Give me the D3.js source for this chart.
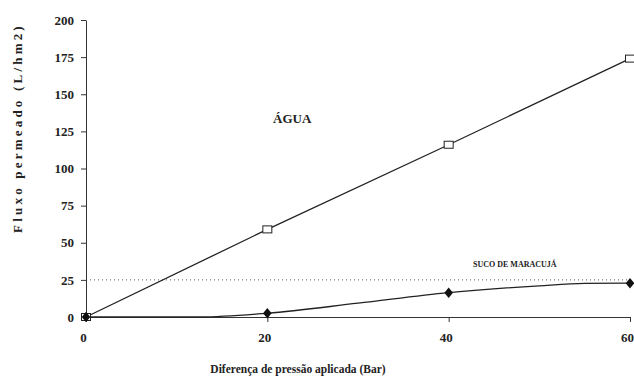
<!DOCTYPE html>
<html>
<head>
<meta charset="utf-8">
<script src="https://cdn.jsdelivr.net/npm/d3@7"></script>
<style>
  body { margin: 0; background: #fff; }
  text { font-family: "Liberation Serif", "Times New Roman", serif; font-weight: bold; fill: #222; }
</style>
</head>
<body>
<div id="chart"></div>
<script>
// pressure (bar) and flux values
var pressure = [0, 20, 40, 60];
var agua = [0, 59, 116, 174];
var suco = [0, 2.5, 16.4, 22.8];

// trend line of the juice
var sucoTrendX = [0, 2.5, 12.6, 20, 30, 40, 50, 55, 60];
var sucoTrendY = [0, 0, 0, 2.5, 9.3, 16.4, 21, 22.6, 22.8];

var xTicks = [0, 20, 40, 60];
var yTicks = [0, 25, 50, 75, 100, 125, 150, 175, 200];
var limite = 25;

var width = 634, height = 378;
var margin = { top: 20, right: 4, bottom: 61, left: 86 };

var x = d3.scaleLinear().domain([0, 60]).range([margin.left, width - margin.right]);
var y = d3.scaleLinear().domain([0, 200]).range([height - margin.bottom, margin.top]);

var svg = d3.select("#chart").append("svg")
    .attr("width", width)
    .attr("height", height);

// dotted reference line at 25
svg.append("line")
    .attr("x1", x(0)).attr("x2", x(60))
    .attr("y1", y(limite)).attr("y2", y(limite))
    .attr("stroke", "#555")
    .attr("stroke-width", 1)
    .attr("stroke-dasharray", "1,3");

// axes
var yAxis = svg.append("g")
    .attr("transform", "translate(" + x(0) + ",0)")
    .call(d3.axisLeft(y).tickValues(yTicks).tickSize(5).tickSizeOuter(0).tickPadding(7));
yAxis.select(".domain").attr("stroke", "#333");
yAxis.selectAll(".tick line").attr("stroke", "#333");
yAxis.selectAll("text").style("font-size", "13px").style("font-family", "Liberation Serif").style("font-weight", "bold").attr("fill", "#222");

var xAxis = svg.append("g")
    .attr("transform", "translate(0," + y(0) + ")")
    .call(d3.axisBottom(x).tickValues(xTicks).tickSize(5).tickSizeOuter(0).tickPadding(11));
xAxis.select(".domain").attr("stroke", "#333");
xAxis.selectAll(".tick line").attr("stroke", "#333");
xAxis.selectAll("text").attr("dx", "-3").style("font-size", "13px").style("font-family", "Liberation Serif").style("font-weight", "bold").attr("fill", "#222");

// water line
var aguaData = pressure.map(function (p, i) { return { x: p, y: agua[i] }; });
var sucoData = pressure.map(function (p, i) { return { x: p, y: suco[i] }; });
var sucoTrend = sucoTrendX.map(function (p, i) { return { x: p, y: sucoTrendY[i] }; });

var line = d3.line()
    .x(function (d) { return x(d.x); })
    .y(function (d) { return y(d.y); });

svg.append("path")
    .datum(aguaData)
    .attr("d", line)
    .attr("fill", "none")
    .attr("stroke", "#222")
    .attr("stroke-width", 1.3);

svg.append("path")
    .datum(sucoTrend)
    .attr("d", line.curve(d3.curveMonotoneX))
    .attr("fill", "none")
    .attr("stroke", "#222")
    .attr("stroke-width", 1.3);

// markers (squares first so the diamond at the origin sits on top)
svg.append("g").selectAll("rect")
    .data(aguaData)
    .enter()
    .append("rect")
    .attr("x", function (d) { return x(d.x) - 4.5; })
    .attr("y", function (d) { return y(d.y) - 3.5; })
    .attr("width", 9)
    .attr("height", 7)
    .attr("fill", "#fff")
    .attr("stroke", "#222")
    .attr("stroke-width", 1);

svg.append("g").selectAll("path")
    .data(sucoData)
    .enter()
    .append("path")
    .attr("d", d3.symbol().type(d3.symbolDiamond).size(44))
    .attr("transform", function (d) { return "translate(" + x(d.x) + "," + y(d.y) + ") scale(1.2,0.85)"; })
    .attr("fill", "#111");

// labels
svg.append("text")
    .attr("x", 273).attr("y", 123)
    .style("font-size", "13px")
    .text("ÁGUA");

svg.append("text")
    .attr("x", 473).attr("y", 267)
    .style("font-size", "8px")
    .text("SUCO DE MARACUJÁ");

svg.append("text")
    .attr("x", 298).attr("y", 373)
    .attr("text-anchor", "middle")
    .style("font-size", "11.5px")
    .text("Diferença de pressão aplicada (Bar)");

svg.append("text")
    .attr("transform", "translate(22,128) rotate(-90)")
    .attr("text-anchor", "middle")
    .style("font-size", "13px")
    .style("letter-spacing", "3.2px")
    .text("Fluxo permeado (L/hm2)");
</script>
</body>
</html>
